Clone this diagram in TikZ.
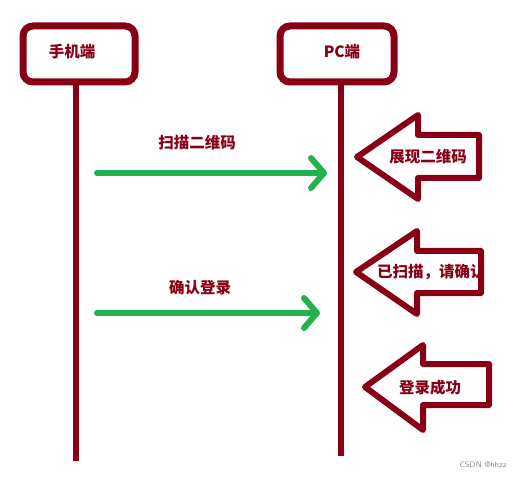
\documentclass[tikz,border=0pt]{standalone}
\usepackage{fontspec}
\usepackage{xcolor}
\usepackage{tikz}
\usetikzlibrary{arrows.meta}

\newfontfamily\cjk{Noto Sans CJK SC}
\definecolor{paintred}{RGB}{136,0,21}
\definecolor{paintgreen}{RGB}{34,177,76}

\begin{document}
\begin{tikzpicture}[x=1pt,y=-1pt]

\tikzstyle{lifebox}=[draw=paintred,line width=7pt,rounded corners=10pt,minimum width=112pt,minimum height=56pt]
\tikzstyle{lifeline}=[draw=paintred,line width=6pt]
\tikzstyle{msg}=[paintgreen,line width=6pt,line cap=round,-{Straight Barb[length=13pt,width=30pt,round]}]
\tikzstyle{blockarrow}=[draw=paintred,line width=6pt,line join=round]
\tikzstyle{txt}=[text=paintred,inner sep=0pt,font=\cjk\bfseries\fontsize{15.5}{18}\selectfont]

\useasboundingbox (0,0) rectangle (527,478);

%% Participants
\node[lifebox,minimum width=112pt] (phone) at (79,54) {};
\node[lifebox,minimum width=114pt] (pc) at (337,54) {};
\node[txt] (phonetxt) at (72,52) {手机端};
\node[txt] (pctxt) at (342,52) {PC端};

%% Lifelines
\coordinate (phoneend) at (76,461);
\coordinate (pcend) at (341,456);
\draw[lifeline] (phone.south -| phoneend) -- (phoneend);
\draw[lifeline] (pc.south -| pcend) -- (pcend);

%% Messages
\coordinate (scanstart) at (97,173);
\coordinate (scanend) at (327,173);
\coordinate (loginstart) at (97,313);
\coordinate (loginend) at (320,313);
\draw[msg] (scanstart) -- (scanend);
\draw[msg] (loginstart) -- (loginend);
\node[txt] (scantxt) at (197,143) {扫描二维码};
\node[txt] (logintxt) at (200,288) {确认登录};

%% Replies
\draw[blockarrow] (357,157) -- (418,115) -- (418,135) -- (479,135)
    -- (479,178) -- (418,178) -- (418,199) -- cycle;
\node[txt] (showtxt) at (428,157) {展现二维码};

\draw[blockarrow] (356,272) -- (417,231) -- (417,251) -- (481,251)
    -- (481,293) -- (417,293) -- (417,314) -- cycle;
\begin{scope}
    \clip (350,240) rectangle (478,305);
    \node[txt,anchor=west] (scannedtxt) at (377,272) {已扫描，请确认};
\end{scope}

\draw[blockarrow] (365,387) -- (423,345) -- (423,364) -- (489,364)
    -- (489,405) -- (423,405) -- (423,430) -- cycle;
\node[txt] (oktxt) at (430,388) {登录成功};

% \node (watermark) ...
\node[text=black!45,inner sep=0pt,font=\sffamily\fontsize{8}{9}\selectfont] (watermark) at (483,465) {CSDN @hhzz};

\end{tikzpicture}
\end{document}
